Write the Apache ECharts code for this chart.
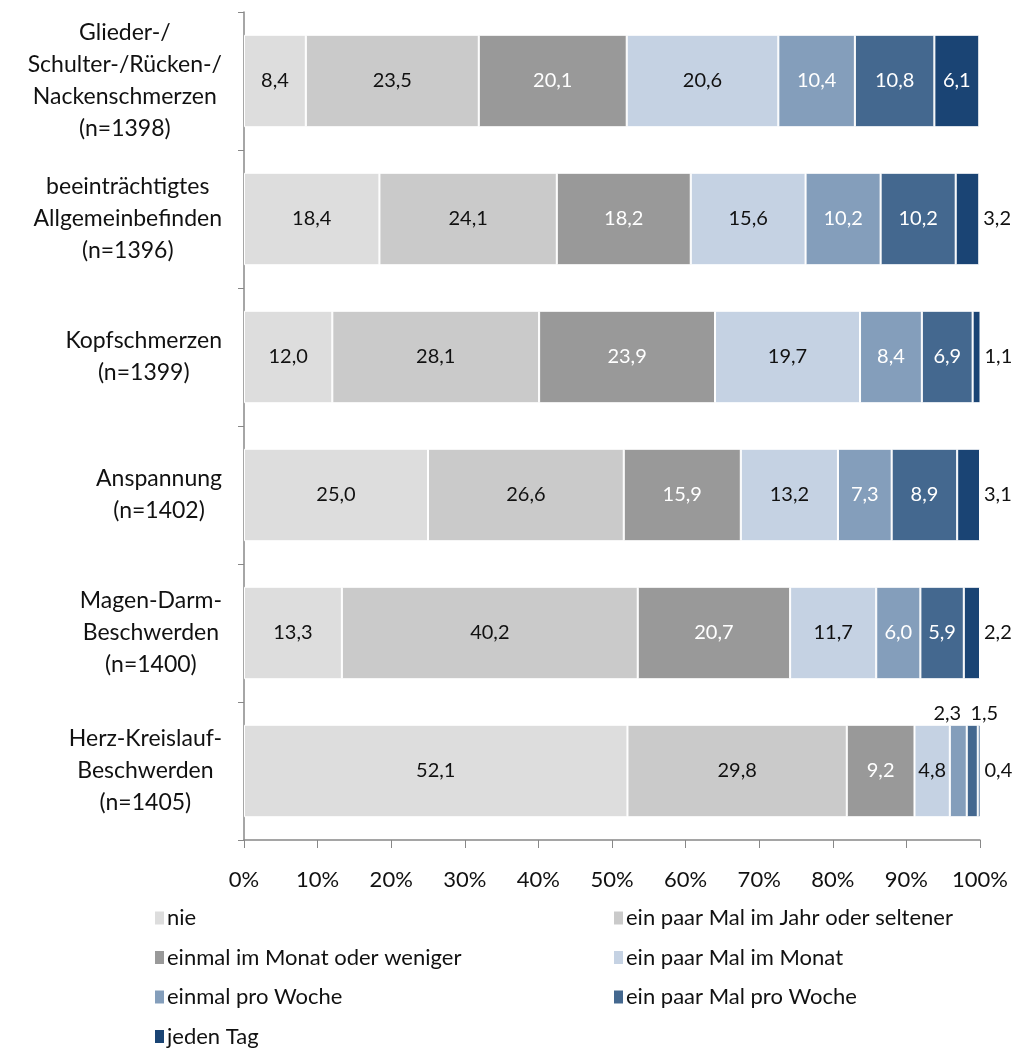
<!DOCTYPE html>
<html>
<head>
<meta charset="utf-8">
<script src="https://cdn.jsdelivr.net/npm/echarts@6/dist/echarts.min.js"></script>
<style>
  html, body { margin: 0; padding: 0; background: #fff; }
  #chart { width: 1025px; height: 1050px; }
</style>
</head>
<body>
<div id="chart"></div>
<script>
// Kategorien (von oben nach unten)
const categories = [
    'Glieder-/\nSchulter-/Rücken-/\nNackenschmerzen\n(n=1398)',
    'beeinträchtigtes\nAllgemeinbefinden\n(n=1396)',
    'Kopfschmerzen\n(n=1399)',
    'Anspannung\n(n=1402)',
    'Magen-Darm-\nBeschwerden\n(n=1400)',
    'Herz-Kreislauf-\nBeschwerden\n(n=1405)'
];

const seriesNames = [
    'nie',
    'ein paar Mal im Jahr oder seltener',
    'einmal im Monat oder weniger',
    'ein paar Mal im Monat',
    'einmal pro Woche',
    'ein paar Mal pro Woche',
    'jeden Tag'
];

const nie = [8.4, 18.4, 12.0, 25.0, 13.3, 52.1];
const paarMalJahr = [23.5, 24.1, 28.1, 26.6, 40.2, 29.8];
const einmalMonat = [20.1, 18.2, 23.9, 15.9, 20.7, 9.2];
const paarMalMonat = [20.6, 15.6, 19.7, 13.2, 11.7, 4.8];
const einmalWoche = [10.4, 10.2, 8.4, 7.3, 6.0, 2.3];
const paarMalWoche = [10.8, 10.2, 6.9, 8.9, 5.9, 1.5];
const jedenTag = [6.1, 3.2, 1.1, 3.1, 2.2, 0.4];

const values = [nie, paarMalJahr, einmalMonat, paarMalMonat, einmalWoche, paarMalWoche, jedenTag];
const colors = ['#dddddd', '#cacaca', '#999999', '#c5d2e3', '#849ebb', '#44688f', '#1a4474'];
const labelColors = ['#111', '#111', '#fff', '#111', '#fff', '#fff', '#fff'];
// seitliche Verschiebung für Beschriftungen über dem Balken
const topOffsets = [0, 0, 0, 0, -11, 12, 0];

const xTicks = [0, 10, 20, 30, 40, 50, 60, 70, 80, 90, 100];

const font = 'Lato, "Open Sans", sans-serif';
const fmt = v => v.toFixed(1).replace('.', ',');

const chart = echarts.init(document.getElementById('chart'));

const series = values.map((arr, si) => ({
    name: seriesNames[si],
    type: 'bar',
    stack: 'total',
    barWidth: '67%',
    itemStyle: { color: colors[si], borderColor: '#fff', borderWidth: 1 },
    data: arr.map(v => {
        const item = { value: v };
        // kleine Werte außerhalb des Balkens beschriften
        if (si === 6 && v < 4) {
            item.label = { position: 'right', color: '#111', distance: 4 };
        } else if (v < 3) {
            item.label = { position: 'top', color: '#111', distance: 1, offset: [topOffsets[si], 0] };
        }
        return item;
    }),
    label: {
        show: true,
        position: 'inside',
        color: labelColors[si],
        fontFamily: font,
        fontSize: 20,
        formatter: p => fmt(p.value)
    }
}));

const legendText = { fontFamily: font, fontSize: 22, color: '#111', padding: [0, 0, 0, -3] };

chart.setOption({
    backgroundColor: '#fff',
    animation: false,
    grid: { left: 244, right: 45, top: 12, bottom: 210 },
    xAxis: {
        type: 'value',
        min: 0,
        max: 100,
        interval: 10,
        splitLine: { show: false },
        axisLine: { show: true, lineStyle: { color: '#888', width: 1.5 } },
        axisTick: { show: true, length: 8, lineStyle: { color: '#888' } },
        axisLabel: {
            margin: 29,
            color: '#111',
            fontFamily: font,
            fontSize: 22,
            formatter: v => xTicks.includes(v) ? v + '%' : ''
        }
    },
    yAxis: {
        type: 'category',
        inverse: true,
        data: categories,
        axisLine: { show: true, lineStyle: { color: '#888', width: 1.5 } },
        axisTick: { show: true, length: 6, lineStyle: { color: '#888' } },
        axisLabel: {
            margin: 22,
            color: '#111',
            fontFamily: font,
            fontSize: 23,
            lineHeight: 32,
            align: 'right',
            formatter: v => v.split('\n').map(l => '{c|' + l + '}').join('\n'),
            rich: {
                c: { align: 'center', fontFamily: font, fontSize: 23, lineHeight: 32, color: '#111' }
            }
        }
    },
    legend: [
        {
            data: [seriesNames[0], seriesNames[2], seriesNames[4], seriesNames[6]],
            orient: 'vertical',
            left: 153,
            top: 907,
            height: 145,
            padding: 0,
            itemWidth: 11,
            itemHeight: 15,
            itemGap: 17.5,
            icon: 'rect',
            textStyle: legendText
        },
        {
            data: [seriesNames[1], seriesNames[3], seriesNames[5]],
            orient: 'vertical',
            left: 612,
            top: 907,
            height: 145,
            padding: 0,
            itemWidth: 11,
            itemHeight: 15,
            itemGap: 17.5,
            icon: 'rect',
            textStyle: legendText
        }
    ],
    series: series
});
</script>
</body>
</html>
